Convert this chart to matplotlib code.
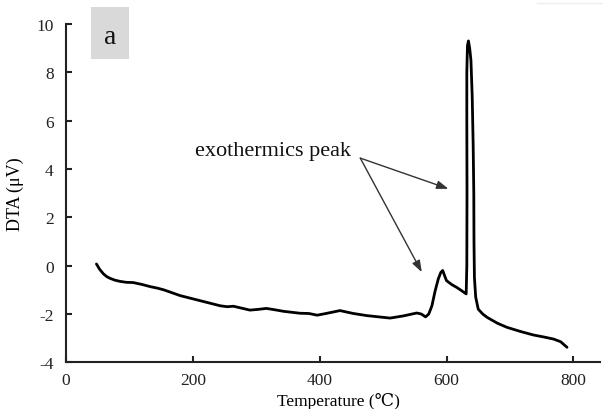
import matplotlib
matplotlib.use("Agg")
import matplotlib.pyplot as plt
from matplotlib.patches import Rectangle
from matplotlib.lines import Line2D

plt.rcParams['font.family'] = ['Liberation Serif', 'DejaVu Serif']
plt.rcParams['axes.unicode_minus'] = False

temperature = [48, 53, 59, 64, 69, 77, 85, 95, 106, 120, 133, 144, 154, 167, 180, 201, 222, 243,
               254, 264, 277, 290, 303, 316, 330, 343, 356, 369, 383, 396, 410, 432, 453, 475,
               493, 511, 532, 553, 560, 567, 572, 577, 582, 587, 591, 594, 597, 600, 608, 616, 624, 631,
               632, 632.3, 632, 632, 633, 634.5, 636.5, 638.5, 640.5, 642, 643, 643.3, 644, 646, 650,
               657, 664, 680, 695, 716, 737, 753, 769, 780, 790]
dta = [0.07, -0.15, -0.34, -0.45, -0.52, -0.60, -0.65, -0.69, -0.70, -0.78, -0.87, -0.93, -1.00, -1.12, -1.24,
       -1.38, -1.52, -1.66, -1.70, -1.68, -1.76, -1.84, -1.81, -1.77, -1.83, -1.89, -1.93, -1.97, -1.98, -2.05,
       -1.98, -1.86, -1.98, -2.07, -2.12, -2.17, -2.08, -1.96, -2.00, -2.12, -2.00, -1.66, -1.05, -0.55,
       -0.28, -0.20, -0.42, -0.62, -0.78, -0.90, -1.04, -1.17,
       0.0, 3.0, 6.0, 8.0, 9.1, 9.3, 9.0, 8.5, 7.0, 5.0, 3.0, 1.0, -0.5, -1.3, -1.8,
       -2.0, -2.14, -2.38, -2.55, -2.72, -2.87, -2.95, -3.04, -3.15, -3.38]

x_ticks = [0, 200, 400, 600, 800]
y_ticks = [-4, -2, 0, 2, 4, 6, 8, 10]
annotation_text = "exothermics peak"
arrow_start = (464, 4.45)
arrow_ends = [(603, 3.18), (561, -0.27)]

fig = plt.figure(figsize=(6.03, 4.10), dpi=100)
ax = fig.add_axes([66/603, (410-363.3)/410, (600-66)/603, (363.3-25)/410])

ax.plot(temperature, dta, color='black', lw=2.0, solid_joinstyle='round', solid_capstyle='round')

ax.set_xlim(0, 842)
ax.set_ylim(-4, 10)
ax.set_xticks(x_ticks)
ax.set_yticks(y_ticks)
for s in ['top', 'right']:
    ax.spines[s].set_visible(False)
for s in ['left', 'bottom']:
    ax.spines[s].set_linewidth(1.5)
    ax.spines[s].set_color('#222222')
ax.tick_params(direction='in', length=4, width=1.5, labelsize=12.5, colors='#222222', pad=7)
ax.tick_params(axis='y', pad=9)

for end in arrow_ends:
    ax.annotate('', xy=end, xytext=arrow_start,
                arrowprops=dict(arrowstyle='-|>,head_length=0.7,head_width=0.25',
                                color='#333333', lw=1.0, shrinkA=0, shrinkB=0))
ax.text(203, 4.75, annotation_text, fontsize=16, va='center', ha='left', color='#111111')

fig.patches.append(Rectangle((91/603, (410-60)/410), 38/603, 52/410,
                             transform=fig.transFigure, facecolor='#d9d9d9', edgecolor='none'))
fig.text(110/603, (410-38)/410, 'a', fontsize=20, ha='center', va='center', color='#111111')

fig.text(15/603, (410-194)/410, 'DTA (\u03bcV)', rotation=90, fontsize=13, ha='center', va='center')
fig.text(338/603, (410-402)/410, 'Temperature (\u2103)', fontsize=12.5, ha='center', va='center')

fig.lines.append(Line2D([537/603, 1.0], [(410-4)/410]*2, transform=fig.transFigure,
                        color='#eeeeee', lw=1))

fig.savefig('out.png', dpi=100)
